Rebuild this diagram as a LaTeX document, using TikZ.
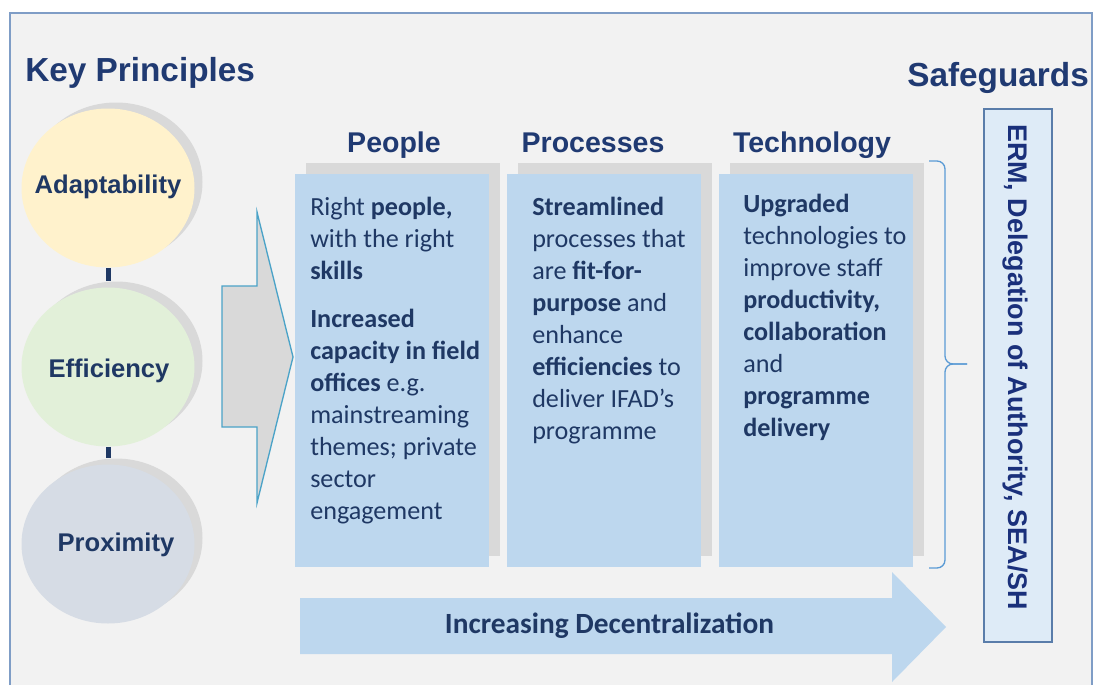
\documentclass[tikz,border=0pt]{standalone}
\usepackage{fontspec}
\setmainfont{Carlito}
\newfontfamily\arialfont{Liberation Sans}
\usetikzlibrary{shapes.geometric,shadows}

\definecolor{framecol}{HTML}{7F9DC6}
\definecolor{bgcol}{HTML}{F2F2F2}
\definecolor{navy}{HTML}{1F3864}
\definecolor{headnavy}{HTML}{203A72}
\definecolor{shadowgray}{HTML}{D9D9D9}
\definecolor{adaptfill}{HTML}{FFF2CC}
\definecolor{efficfill}{HTML}{E2F0D9}
\definecolor{proxfill}{HTML}{D6DCE5}
\definecolor{boxblue}{HTML}{BDD7EE}
\definecolor{pointerline}{HTML}{4BA3C8}
\definecolor{safefill}{HTML}{DEEBF7}
\definecolor{safeline}{HTML}{5A7DAA}
\definecolor{bracecol}{HTML}{5B9BD5}

\tikzset{
  principle/.style={ellipse, minimum width=129.75pt, minimum height=119.25pt,
    inner sep=0pt,
    drop shadow={shadow xshift=6pt, shadow yshift=4.5pt, fill=shadowgray, opacity=1}},
  principlelabel/.style={inner sep=0pt, text=navy,
    font=\arialfont\bfseries\fontsize{19.2}{22}\selectfont},
  link/.style={navy, line width=3.75pt},
  bigtitle/.style={anchor=base west, inner sep=0pt, text=headnavy,
    font=\arialfont\bfseries\fontsize{25}{30}\selectfont},
  colhead/.style={anchor=base, inner sep=0pt, text=headnavy,
    font=\arialfont\bfseries\fontsize{21.4}{26}\selectfont},
  colbox/.style={rectangle, fill=boxblue, minimum width=145.5pt, minimum height=294.75pt,
    inner sep=0pt,
    drop shadow={shadow xshift=8.25pt, shadow yshift=8.25pt, fill=shadowgray, opacity=1}},
  coltext/.style={anchor=north west, align=left, inner sep=0pt, text=navy,
    font=\fontsize{19.6}{24}\selectfont},
  pointer/.style={fill=shadowgray, draw=pointerline, line width=1pt},
  flowtext/.style={anchor=base, inner sep=0pt, text=navy,
    font=\bfseries\fontsize{22}{26}\selectfont},
  bracket/.style={draw=bracecol, line width=1pt, rounded corners=6pt},
  safebox/.style={rectangle, fill=safefill, draw=safeline, line width=1.2pt,
    minimum width=51pt, minimum height=399.75pt, inner sep=0pt},
  safetext/.style={rotate=-90, inner sep=0pt, text=navy!85!blue,
    font=\arialfont\bfseries\fontsize{20.2}{24}\selectfont}
}

\begin{document}
\begin{tikzpicture}[x=0.75pt, y=-0.75pt]
  \useasboundingbox (0,0) rectangle (1095,685);
  \fill[white] (0,0) rectangle (1095,685);
  % frame
  \fill[bgcol] (10,13) rectangle (1092,685);
  \draw[framecol, line width=1.2pt] (10,685) -- (10,13) -- (1092,13) -- (1092,685);

  % key principles
  \node[bigtitle] (keytitle) at (25,82) {Key Principles};
  \foreach \name/\y/\col/\lx/\ly/\label in {adapt/188/adaptfill/108/187/Adaptability,
      effic/367/efficfill/109/371/Efficiency, prox/544/proxfill/116/545/Proximity} {
    \node[principle, fill=\col] (\name) at (108,\y) {};
    \node[principlelabel] (\name label) at (\lx,\ly) {\label};
  }
  \draw[link, shorten >=4.5pt] (adapt) -- (effic);
  \draw[link, shorten >=4.5pt] (effic) -- (prox);

  % big pointer
  \draw[pointer] (222,286) -- (257,286) -- (257,212) -- (293,357) -- (257,503)
    -- (257,427) -- (222,427) -- cycle;

  % columns
  \foreach \name/\x/\hx/\title in {people/392/394/People,
      processes/604/593/Processes, tech/816/812/Technology} {
    \node[colbox] (\name) at (\x,370.5) {};
    \node[colhead] (\name head) at (\hx,152) {\title};
  }
  \node[coltext] (peopletext) at (310,197) {Right \textbf{people,}\\
    with the right\\ \textbf{skills}\\[12pt]
    \textbf{Increased}\\ \textbf{capacity in field}\\ \textbf{offices} e.g.\\
    mainstreaming\\ themes; private\\ sector\\ engagement};
  \node[coltext] (processestext) at (532,197) {\textbf{Streamlined}\\
    processes that\\ are \textbf{fit-for-}\\ \textbf{purpose} and\\ enhance\\
    \textbf{efficiencies} to\\ deliver IFAD’s\\ programme};
  \node[coltext] (techtext) at (743,194) {\textbf{Upgraded}\\
    technologies to\\ improve staff\\ \textbf{productivity,}\\
    \textbf{collaboration}\\ and\\ \textbf{programme}\\ \textbf{delivery}};

  % brace
  \draw[bracket] (929,161) -- (945,161) -- (945,364) -- (967,364);
  \draw[bracket] (967,364) -- (945,364) -- (945,568) -- (929,568);

  % decentralization arrow
  \fill[boxblue] (300,598) -- (892,598) -- (892,572) -- (946,627) -- (892,682)
    -- (892,654) -- (300,654) -- cycle;
  \node[flowtext] (decentral) at (609.5,633) {Increasing Decentralization};

  % safeguards
  \node[bigtitle] (safetitle) at (907,87) {Safeguards};
  \node[safebox] (safe) at (1018,375.5) {};
  \node[safetext] (safelabel) at (1015,367) {ERM, Delegation of Authority, SEA/SH};
\end{tikzpicture}
\end{document}
